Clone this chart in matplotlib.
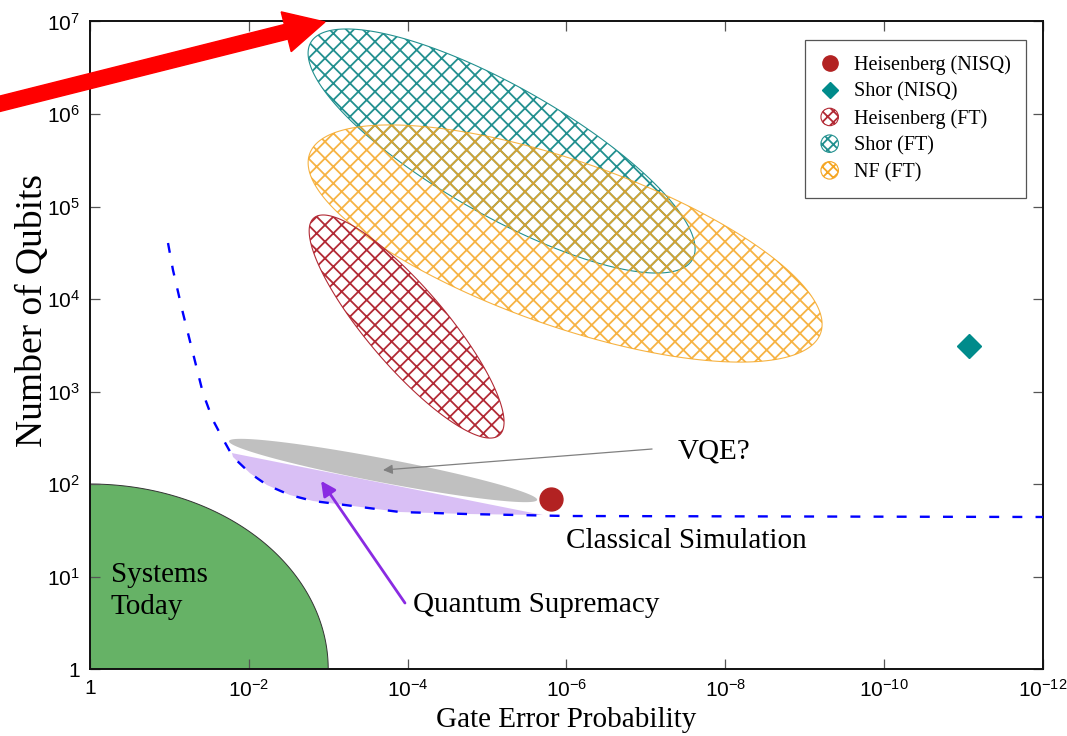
import numpy as np
import matplotlib
matplotlib.use("Agg")
import matplotlib.pyplot as plt
from matplotlib import patches as mpatches
from matplotlib.lines import Line2D
from matplotlib.legend_handler import HandlerPatch
from matplotlib import font_manager as fm

# ---------------- data ----------------
# classical simulation boundary (gate error, qubits)
sim_err = [0.104, 0.0901, 0.0675, 0.0505, 0.0378, 0.0283, 0.0218, 0.0158,
           0.00966, 0.0059, 0.00303, 0.00155, 7.7e-4, 1.25e-4, 1.79e-5,
           9.8e-7, 1e-12]
sim_qubits = [40300, 20600, 7060, 2610, 964, 492, 322, 196,
              131, 97.5, 76, 65.5, 60.8, 49.8, 47.4, 45.1, 44]

# NISQ points
heis_nisq_err, heis_nisq_q = 1.58e-6, 69
shor_nisq_err, shor_nisq_q = 8.5e-12, 3100

# fault-tolerant regions (ellipses in log-log space)
ft_labels = ["Heisenberg (FT)", "Shor (FT)", "NF (FT)"]
ft_center_err = [1.03e-4, 6.56e-6, 1.04e-6]
ft_center_q = [5040, 3.98e5, 3.98e4]
ft_semi_major = [1.798, 2.764, 3.409]   # decades
ft_semi_minor = [0.495, 0.811, 1.038]   # decades
ft_angle = [-49.5, -29.6, -19.3]        # degrees

# VQE region
vqe_center_err, vqe_center_q = 2.04e-4, 140
vqe_semi_major, vqe_semi_minor, vqe_angle = 1.975, 0.151, -10.8

# quantum supremacy region upper edge (end points)
sup_err = [0.0163, 1.97e-6]
sup_q = [216, 46.2]

# systems today
today_err, today_q = 1e-3, 100

# annotation anchors (text position, arrow tail, arrow tip)
vqe_text = (3.94e-8, 222)
vqe_tail = (8.36e-8, 239)
vqe_tip = (2.04e-4, 141.6)
qs_text = (8.55e-5, 4.92)
qs_tail = (1.08e-4, 5.17)
qs_tip = (1.23e-3, 108)
cs_text = (1.01e-6, 24.2)
today_text = (0.55, 7.0)

xticks = [1, 1e-2, 1e-4, 1e-6, 1e-8, 1e-10, 1e-12]
xticklabels = ["1", "$10^{-2}$", "$10^{-4}$", "$10^{-6}$", "$10^{-8}$",
               "$10^{-10}$", "$10^{-12}$"]
yticks = [1, 1e1, 1e2, 1e3, 1e4, 1e5, 1e6, 1e7]
yticklabels = ["1", "$10^{1}$", "$10^{2}$", "$10^{3}$", "$10^{4}$",
               "$10^{5}$", "$10^{6}$", "$10^{7}$"]

# ---------------- style ----------------
def has_font(name):
    try:
        fm.findfont(fm.FontProperties(family=name), fallback_to_default=False)
        return True
    except Exception:
        return False

tick_font = "Liberation Sans Narrow" if has_font("Liberation Sans Narrow") else "Liberation Sans"
plt.rcParams["font.family"] = ["Liberation Serif", "DejaVu Serif"]
plt.rcParams["mathtext.fontset"] = "custom"
plt.rcParams["mathtext.rm"] = tick_font
plt.rcParams["mathtext.it"] = tick_font
plt.rcParams["mathtext.default"] = "rm"
plt.rcParams["hatch.linewidth"] = 1.3

W, H = 10.67, 7.36
fig = plt.figure(figsize=(W, H), dpi=100)
ax = fig.add_axes([0.0843, 0.0910, 0.8932, 0.8798])
ax.set_xscale("log")
ax.set_yscale("log")
ax.set_xlim(1, 1e-12)
ax.set_ylim(1, 1e7)

pos = ax.get_position()
ax_w_px = pos.width * W * 100
ax_h_px = pos.height * H * 100
k = (ax_h_px / 7.0) / (ax_w_px / 12.0)


def ellipse_pts(cerr, cq, a, b, ang, n=400):
    uc = -np.log10(cerr)
    wc = np.log10(cq) * k
    t = np.linspace(0, 2 * np.pi, n)
    r = np.deg2rad(ang)
    u = uc + a * np.cos(t) * np.cos(r) - b * np.sin(t) * np.sin(r)
    w = wc + a * np.cos(t) * np.sin(r) + b * np.sin(t) * np.cos(r)
    return np.column_stack([10 ** (-u), 10 ** (w / k)])


# systems today (quarter ellipse)
t = np.linspace(0, np.pi / 2, 200)
ua = -np.log10(today_err)
vb = np.log10(today_q)
qx = np.concatenate([[1.0], 10 ** (-ua * np.cos(t))])
qy = np.concatenate([[1.0], 10 ** (vb * np.sin(t))])
ax.fill(qx, qy, facecolor="#66b266", edgecolor="#333333", lw=0.7, zorder=1)

# quantum supremacy region
s_err = np.array(sim_err)
s_q = np.array(sim_qubits)
mask = (s_err < sup_err[0]) & (s_err > sup_err[1])
px = np.concatenate([sup_err, s_err[mask][::-1]])
py = np.concatenate([sup_q, s_q[mask][::-1]])
ax.fill(px, py, facecolor="#d9bff5", edgecolor="none", zorder=2)

# VQE region
ax.add_patch(mpatches.Polygon(
    ellipse_pts(vqe_center_err, vqe_center_q, vqe_semi_major, vqe_semi_minor, vqe_angle),
    closed=True, facecolor="#c0c0c0", edgecolor="none", zorder=3))

# classical simulation boundary
ax.plot(sim_err, sim_qubits, color="#0000ff", lw=1.7, dashes=(4.2, 5.6), zorder=4)

# FT ellipses
ft_colors = ["#b22a35", "#22908f", "#f5a623"]
ft_alpha = [1.0, 1.0, 0.85]
ft_order = [1, 2, 0]
for i in ft_order:
    ax.add_patch(mpatches.Polygon(
        ellipse_pts(ft_center_err[i], ft_center_q[i], ft_semi_major[i],
                    ft_semi_minor[i], ft_angle[i]),
        closed=True, facecolor="none", edgecolor=ft_colors[i], hatch="xx",
        lw=0.8, alpha=ft_alpha[i], zorder=5))

# NISQ points
ax.plot([heis_nisq_err], [heis_nisq_q], "o", color="#b22222", ms=16.5, zorder=6)
ax.plot([shor_nisq_err], [shor_nisq_q], "D", color="#008b8b", ms=12, zorder=6)

# annotations
tfs = 21
ax.text(*vqe_text, "VQE?", fontsize=tfs, ha="left", va="center", zorder=7)
ax.annotate("", xy=vqe_tip, xytext=vqe_tail,
            arrowprops=dict(arrowstyle="-|>", color="#808080", lw=0.9,
                            mutation_scale=14, shrinkA=0, shrinkB=0),
            zorder=7)
ax.text(*cs_text, "Classical Simulation", fontsize=tfs, ha="left",
        va="center", zorder=7)
ax.text(*qs_text, "Quantum Supremacy", fontsize=tfs, ha="left",
        va="center", zorder=7)
ax.annotate("", xy=qs_tip, xytext=qs_tail,
            arrowprops=dict(arrowstyle="-|>", color="#8a2be2", lw=2.0,
                            mutation_scale=22, shrinkA=0, shrinkB=0),
            zorder=7)
ax.text(*today_text, "Systems\nToday", fontsize=tfs, ha="left", va="center",
        linespacing=1.3, zorder=7)

# ticks
ax.set_xticks(xticks)
ax.set_xticklabels(xticklabels)
ax.set_yticks(yticks)
ax.set_yticklabels(yticklabels)
ax.minorticks_off()
ax.tick_params(which="major", direction="in", length=7, width=0.9,
               color="#555555", top=True, right=True, labelsize=15, pad=7,
               labelfontfamily=tick_font)
for s in ax.spines.values():
    s.set_linewidth(1.4)
    s.set_color("#111111")

ax.set_xlabel("Gate Error Probability", fontsize=21)
ax.set_ylabel("Number of Qubits", fontsize=27)
ax.xaxis.set_label_coords(0.5, -0.058)
ax.yaxis.set_label_coords(-0.042, 0.554)


# legend
class HandlerCircle(HandlerPatch):
    def create_artists(self, legend, orig_handle, xdescent, ydescent,
                       width, height, fontsize, trans):
        center = (0.5 * width - xdescent, 0.5 * height - ydescent)
        p = mpatches.Circle(center, radius=0.62 * height)
        self.update_prop(p, orig_handle, legend)
        p.set_transform(trans)
        return [p]


handles = [
    Line2D([], [], ls="none", marker="o", color="#b22222", ms=11),
    Line2D([], [], ls="none", marker="D", color="#008b8b", ms=8),
]
for i in range(3):
    handles.append(mpatches.Patch(facecolor="none", edgecolor=ft_colors[i],
                                  hatch="xxx", lw=0.8))
labels = ["Heisenberg (NISQ)", "Shor (NISQ)"] + ft_labels
hm = {h: HandlerCircle() for h in handles[2:]}
leg = ax.legend(handles, labels, handler_map=hm, loc="upper right",
                bbox_to_anchor=(0.982, 0.971), borderaxespad=0,
                fontsize=14.5, frameon=True, fancybox=False, framealpha=1,
                edgecolor="#555555", handlelength=1.0, handletextpad=0.7,
                labelspacing=0.37, borderpad=0.75)
leg.get_frame().set_linewidth(0.9)
leg.set_zorder(10)

# big red arrow (outside the axes)
arr = mpatches.FancyArrow(-0.05, 6.31, 3.30, 0.83, width=0.15,
                          head_width=0.41, head_length=0.40,
                          length_includes_head=True, color="#ff0000",
                          transform=fig.dpi_scale_trans, clip_on=False,
                          zorder=20)
fig.add_artist(arr)

fig.savefig("out.png", dpi=100)
